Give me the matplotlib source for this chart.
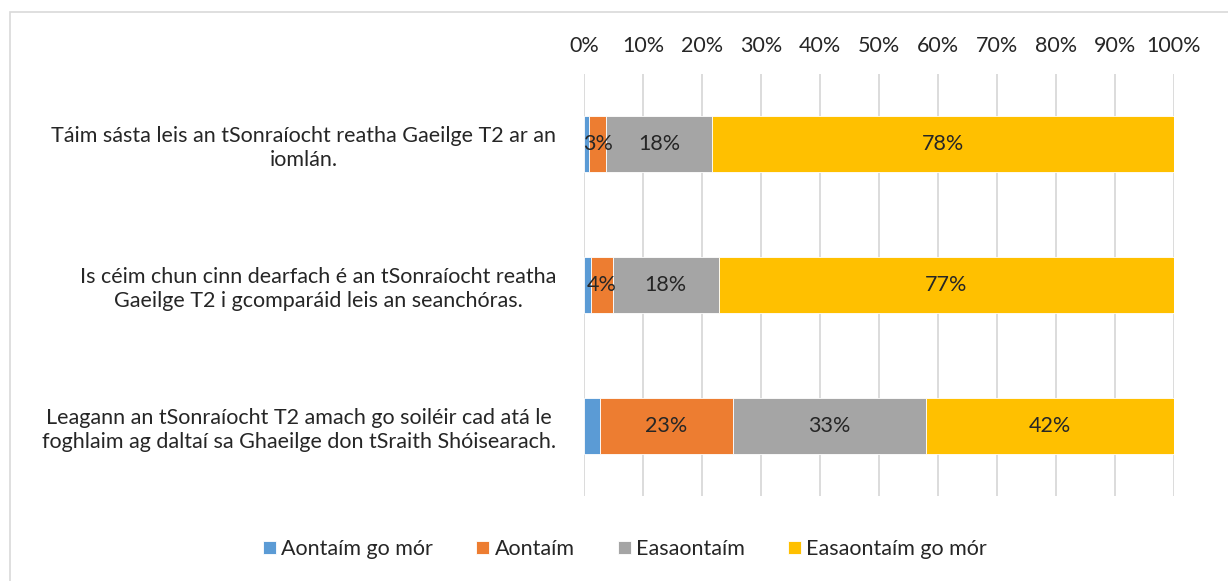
import numpy as np
import matplotlib.pyplot as plt
from matplotlib.patches import Rectangle

plt.rcParams['font.family'] = ['Lato', 'DejaVu Sans']

# statements (top to bottom)
statements = [
    "Táim sásta leis an tSonraíocht reatha Gaeilge T2 ar an\niomlán.",
    "Is céim chun cinn dearfach é an tSonraíocht reatha\nGaeilge T2 i gcomparáid leis an seanchóras.",
    "Leagann an tSonraíocht T2 amach go soiléir cad atá le\nfoghlaim ag daltaí sa Ghaeilge don tSraith Shóisearach.",
]
series = ["Aontaím go mór", "Aontaím", "Easaontaím", "Easaontaím go mór"]
colors = ["#5B9BD5", "#ED7D31", "#A5A5A5", "#FFC000"]

# percentages per series, one value per statement
aontaim_go_mor = [0.9, 1.2, 2.7]
aontaim = [2.9, 3.7, 22.6]
easaontaim = [17.9, 17.9, 32.6]
easaontaim_go_mor = [78.3, 77.2, 42.1]
values = [aontaim_go_mor, aontaim, easaontaim, easaontaim_go_mor]
show_labels = [False, True, True, True]

fs = 15.5
txt = "#262626"

fig = plt.figure(figsize=(12.28, 5.81), dpi=100)
# light frame round the chart
fig.patches.append(Rectangle((10 / 1228, -0.05), 1.1, 1 - 12 / 581 + 0.05,
                             transform=fig.transFigure, fill=False,
                             edgecolor="#d9d9d9", linewidth=1.2))

ax = fig.add_axes([584 / 1228, 1 - 496 / 581, 590 / 1228, 422 / 581])
y = np.arange(len(statements))
left = np.zeros(len(statements))
for name, vals, col, lab in zip(series, values, colors, show_labels):
    vals = np.array(vals)
    bars = ax.barh(y, vals, left=left, height=0.4, color=col, label=name,
                   edgecolor="white", linewidth=0.6, zorder=3)
    if lab:
        for b, v in zip(bars, vals):
            ax.text(b.get_x() + b.get_width() / 2, b.get_y() + b.get_height() / 2,
                    f"{round(v):.0f}%", ha="center", va="center",
                    fontsize=fs, color=txt, zorder=4)
    left += vals

ax.set_xlim(0, 100)
ax.set_ylim(2.5, -0.5)
ax.set_xticks(np.arange(0, 101, 10))
ax.set_xticklabels([f"{t}%" for t in range(0, 101, 10)])
ax.xaxis.tick_top()
ax.tick_params(axis="x", length=0, pad=13, labelsize=fs, colors=txt)
ax.set_yticks(y)
ax.set_yticklabels(statements, multialignment="center", linespacing=1.25)
ax.tick_params(axis="y", length=0, pad=20, labelsize=fs, colors=txt)
ax.grid(axis="x", color="#d9d9d9", linewidth=1.3, zorder=0)
for s in ax.spines.values():
    s.set_visible(False)

ax.legend(loc="center", bbox_to_anchor=(625 / 1228, 1 - 549 / 581),
          bbox_transform=fig.transFigure, ncol=4, frameon=False,
          fontsize=fs, handlelength=0.6, handleheight=0.6,
          handletextpad=0.25, columnspacing=2.0, labelcolor=txt)

fig.savefig("out.png", dpi=100)
